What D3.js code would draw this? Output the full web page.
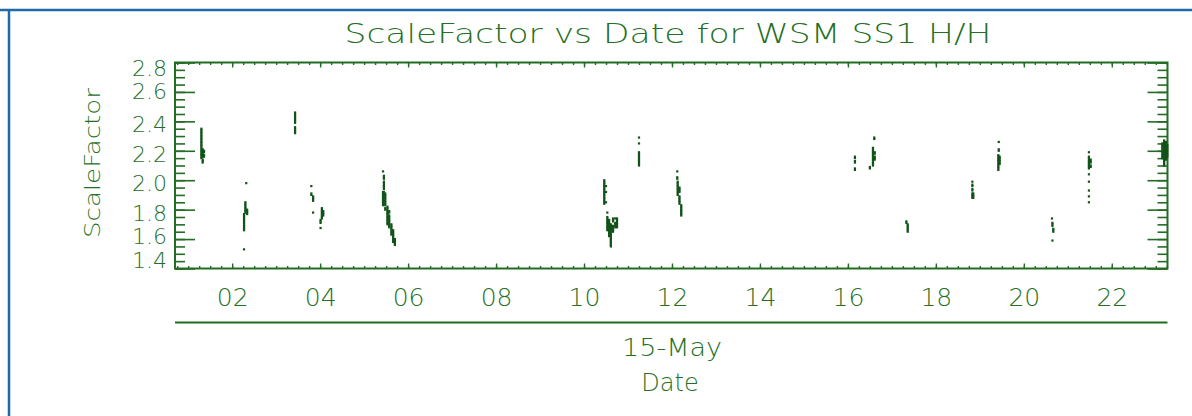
<!doctype html>
<html lang="en">
<head>
    <meta charset="UTF-8">
    <script src="https://cdnjs.cloudflare.com/ajax/libs/d3/7.8.5/d3.min.js"></script>
    <title>ScaleFactor vs Date</title>
    <style>
        body { margin: 0; background: #fff; }
        text { font-family: "DejaVu Sans", sans-serif; font-weight: 300; fill: #256f25; }
    </style>
</head>
<body>

<div id="viz_area"></div>

<script>
    const titleText = "ScaleFactor vs Date for WSM SS1 H/H";
    const yLabel = "ScaleFactor", xLabel = "Date";
    const dayStart = new Date(2010, 4, 15, 0, 42),
        dayEnd = new Date(2010, 4, 15, 23, 16);
    const yTicks = [1.4, 1.6, 1.8, 2.0, 2.2, 2.4, 2.6, 2.8];

    // each column = one short vertical run of samples at (about) the same hour
    const columnHours = [
        1.30, 1.33, 1.36,
        2.32, 2.30, 2.34, 2.27,
        3.43,
        3.80, 3.84, 4.04, 4.07, 4.01,
        5.43, 5.45, 5.48, 5.53, 5.57, 5.62, 5.66, 5.70,
        10.46, 10.50, 10.53, 10.57, 10.61, 10.66, 10.71, 10.75,
        11.25,
        12.12, 12.13, 12.17, 12.21,
        16.16,
        16.60, 16.57, 16.61, 16.50,
        17.33, 17.36,
        18.83, 18.85,
        19.43, 19.42, 19.45,
        20.64, 20.65, 20.67,
        21.48, 21.52,
        23.15, 23.19, 23.23, 23.26
    ];
    const columnFactors = [
        [2.35, 2.34, 2.33, 2.32, 2.31, 2.30, 2.29, 2.28, 2.27, 2.26, 2.25, 2.24, 2.23, 2.22, 2.21, 2.20, 2.19, 2.18, 2.17, 2.16, 2.15],
        [2.21, 2.20, 2.19, 2.18, 2.17, 2.16, 2.14, 2.13, 2.12],
        [2.20, 2.19, 2.17, 2.16],
        [1.98],
        [1.85, 1.84, 1.83, 1.82, 1.81, 1.80, 1.79, 1.78],
        [1.80, 1.79, 1.78, 1.77],
        [1.77, 1.76, 1.75, 1.74, 1.73, 1.72, 1.71, 1.70, 1.69, 1.68, 1.67, 1.66, 1.53],
        [2.46, 2.45, 2.44, 2.43, 2.42, 2.41, 2.40, 2.39, 2.36, 2.35, 2.34, 2.33, 2.32],
        [1.96, 1.91, 1.90],
        [1.89, 1.88, 1.87, 1.86, 1.78],
        [1.81, 1.80, 1.79, 1.78, 1.77, 1.76, 1.75, 1.74],
        [1.79, 1.78, 1.77, 1.76],
        [1.73, 1.72, 1.71, 1.675],
        [2.06, 1.92, 1.91, 1.90, 1.89, 1.88, 1.87, 1.86, 1.85, 1.84, 1.83],
        [2.03, 2.02, 2.01, 1.99, 1.98, 1.97, 1.96, 1.95, 1.94, 1.92, 1.90, 1.88, 1.86, 1.84],
        [1.91, 1.90, 1.89, 1.88, 1.87, 1.86, 1.85, 1.84, 1.83, 1.81, 1.80],
        [1.82, 1.81, 1.80, 1.79, 1.78, 1.77, 1.76, 1.75, 1.74, 1.73, 1.72, 1.71, 1.70],
        [1.79, 1.78, 1.76, 1.75, 1.74, 1.73, 1.72, 1.71, 1.70, 1.69, 1.68],
        [1.70, 1.69, 1.68, 1.67, 1.66, 1.65, 1.64, 1.63],
        [1.66, 1.65, 1.64, 1.63, 1.62, 1.61, 1.60, 1.59, 1.58],
        [1.60, 1.59, 1.58, 1.57, 1.56],
        [2.00, 1.99, 1.98, 1.97, 1.96, 1.95, 1.94, 1.93, 1.92, 1.91, 1.90, 1.89, 1.88, 1.87, 1.86, 1.85, 1.84],
        [1.96, 1.92, 1.85],
        [1.78, 1.75, 1.74, 1.73, 1.72, 1.71, 1.70, 1.69, 1.68, 1.67, 1.66],
        [1.73, 1.72, 1.71, 1.70, 1.69, 1.68, 1.67, 1.66, 1.65, 1.64, 1.63, 1.62],
        [1.70, 1.69, 1.68, 1.67, 1.66, 1.65, 1.64, 1.63, 1.62, 1.61, 1.60, 1.59, 1.58, 1.57, 1.56, 1.55],
        [1.74, 1.73, 1.72, 1.69, 1.68, 1.67, 1.66, 1.65],
        [1.74, 1.71, 1.70, 1.69, 1.68],
        [1.74, 1.73, 1.72, 1.71, 1.70, 1.69, 1.68],
        [2.29, 2.25, 2.19, 2.18, 2.17, 2.16, 2.15, 2.14, 2.13, 2.12, 2.11, 2.10],
        [2.06, 2.02, 2.01],
        [1.99, 1.98, 1.97, 1.96, 1.95, 1.94, 1.93, 1.92, 1.91, 1.90],
        [1.95, 1.94, 1.93, 1.92, 1.89, 1.88, 1.87, 1.86, 1.85, 1.84],
        [1.83, 1.82, 1.81, 1.80, 1.79, 1.78, 1.77, 1.76],
        [2.16, 2.15, 2.13, 2.12, 2.08, 2.07],
        [2.29, 2.28],
        [2.22, 2.21, 2.20, 2.19, 2.18, 2.17, 2.16, 2.15, 2.14, 2.13, 2.12, 2.11, 2.10],
        [2.19, 2.18, 2.16, 2.15, 2.14],
        [2.09, 2.08],
        [1.72, 1.71],
        [1.70, 1.69, 1.68, 1.67, 1.66, 1.65],
        [1.99, 1.97, 1.96, 1.94, 1.93, 1.91, 1.90, 1.89, 1.88],
        [1.91, 1.90, 1.89, 1.88],
        [2.26, 2.21, 2.20],
        [2.17, 2.16, 2.15, 2.14, 2.13, 2.12, 2.11, 2.10, 2.09, 2.08, 2.07],
        [2.16, 2.15, 2.14, 2.13, 2.12, 2.11],
        [1.74],
        [1.71, 1.70, 1.69, 1.59],
        [1.67, 1.66, 1.65],
        [2.19, 2.16, 2.15, 2.14, 2.13, 2.12, 2.11, 2.10, 2.09, 2.08, 2.04, 1.99, 1.93, 1.89, 1.85],
        [2.14, 2.13, 2.12, 2.10, 2.09],
        [2.25, 2.24, 2.23, 2.22, 2.21, 2.20, 2.19, 2.18, 2.17, 2.16, 2.15],
        [2.27, 2.26, 2.25, 2.24, 2.23, 2.22, 2.21, 2.20, 2.19, 2.18, 2.17, 2.16, 2.15, 2.14, 2.13, 2.12, 2.11, 2.10],
        [2.26, 2.25, 2.24, 2.23, 2.22, 2.21, 2.20, 2.19, 2.18, 2.17, 2.16, 2.15, 2.14],
        [2.24, 2.23, 2.22, 2.21, 2.20, 2.19, 2.18, 2.17, 2.16]
    ];

    const W = 1192, H = 416;
    const margin = {top: 62.5, right: 24.5, bottom: 147.5, left: 175},
        width = W - margin.left - margin.right,
        height = H - margin.top - margin.bottom;
    const green = "#236c23", dotGreen = "#12531a";

    const svg = d3.select('#viz_area')
        .append("svg")
        .attr("width", W)
        .attr("height", H);

    // blue page frame
    svg.append("line").attr("x1", 0).attr("x2", W).attr("y1", 10).attr("y2", 10)
        .attr("stroke", "#1f6aa8").attr("stroke-width", 2.5);
    svg.append("line").attr("x1", 9).attr("x2", 9).attr("y1", 10).attr("y2", H)
        .attr("stroke", "#1f6aa8").attr("stroke-width", 2.5);

    const g = svg.append("g")
        .attr("transform", `translate(${margin.left},${margin.top})`);

    const x = d3.scaleTime().domain([dayStart, dayEnd]).range([0, width]);
    const y = d3.scaleLinear().domain([1.4, 2.8]).range([height, 0]);

    function hourToDate(h) {
        return new Date(2010, 4, 15, 0, 0, Math.round(h * 3600));
    }

    function styleAxis(sel, w) {
        sel.select('.domain').remove();
        sel.selectAll('.tick line').attr('stroke', green).attr('stroke-width', w);
    }

    // x axes: bottom and top, majors every 2h, minors every 15 min
    const xMajor = d3.timeHour.every(2), xMinor = d3.timeMinute.every(15);
    g.append("g").attr("transform", `translate(0,${height})`)
        .call(d3.axisBottom(x).ticks(xMinor).tickSize(-2.5).tickFormat(""))
        .call(s => styleAxis(s, 1.4));
    g.append("g").attr("transform", `translate(0,${height})`)
        .call(d3.axisBottom(x).ticks(xMajor).tickSize(-5).tickPadding(20)
            .tickFormat(d3.timeFormat("%H")))
        .call(s => styleAxis(s, 1.4))
        .call(s => s.selectAll('text').style('font-size', '25px').attr('fill', green));
    g.append("g")
        .call(d3.axisTop(x).ticks(xMinor).tickSize(-2.5).tickFormat(""))
        .call(s => styleAxis(s, 1.4));
    g.append("g")
        .call(d3.axisTop(x).ticks(xMajor).tickSize(-5).tickFormat(""))
        .call(s => styleAxis(s, 1.4));

    // y axes: left and right, majors every 0.2, minors every 0.05
    const yMinorTicks = d3.range(0, 29).map(i => +(1.4 + i * 0.05).toFixed(2));
    const labelNudge = {2.8: 5.5, 2.6: -0.5, 1.6: -2.5, 1.4: -8};
    g.append("g")
        .call(d3.axisLeft(y).tickValues(yMinorTicks).tickSize(-10).tickFormat(""))
        .call(s => styleAxis(s, 1.6));
    g.append("g")
        .call(d3.axisLeft(y).tickValues(yTicks).tickSize(-20).tickPadding(8)
            .tickFormat(d3.format(".1f")))
        .call(s => styleAxis(s, 1.6))
        .call(s => s.selectAll('text').style('font-size', '22px').attr('fill', green)
            .attr('y', d => labelNudge[d] !== undefined ? labelNudge[d] : 3.5));
    g.append("g").attr("transform", `translate(${width},0)`)
        .call(d3.axisRight(y).tickValues(yMinorTicks).tickSize(-10).tickFormat(""))
        .call(s => styleAxis(s, 1.6));
    g.append("g").attr("transform", `translate(${width},0)`)
        .call(d3.axisRight(y).tickValues(yTicks).tickSize(-20).tickFormat(""))
        .call(s => styleAxis(s, 1.6));

    // plot frame
    g.append("rect")
        .attr("width", width).attr("height", height)
        .attr("fill", "none").attr("stroke", green).attr("stroke-width", 2);

    // samples
    const points = [];
    columnHours.forEach((h, i) => {
        columnFactors[i].forEach(v => points.push({t: hourToDate(h), v: v}));
    });
    g.append("g").selectAll("rect")
        .data(points)
        .join("rect")
        .attr("x", d => x(d.t) - 1.1)
        .attr("y", d => y(d.v) - 1.1)
        .attr("width", 2.2)
        .attr("height", 2.2)
        .attr("fill", dotGreen);

    // titles
    svg.append("text")
        .attr("x", 668).attr("y", 43)
        .attr("text-anchor", "middle")
        .attr("textLength", 647).attr("lengthAdjust", "spacingAndGlyphs")
        .style("font-size", "27px")
        .text(titleText);

    svg.append("text")
        .attr("transform", "translate(100,163) rotate(-90)")
        .attr("text-anchor", "middle")
        .attr("textLength", 150).attr("lengthAdjust", "spacingAndGlyphs")
        .style("font-size", "22px")
        .text(yLabel);

    svg.append("line")
        .attr("x1", margin.left).attr("x2", margin.left + width)
        .attr("y1", 322.5).attr("y2", 322.5)
        .attr("stroke", green).attr("stroke-width", 2);

    svg.append("text")
        .attr("x", 672).attr("y", 356)
        .attr("text-anchor", "middle")
        .attr("textLength", 100).attr("lengthAdjust", "spacingAndGlyphs")
        .style("font-size", "24px")
        .text(d3.timeFormat("%d-%b")(dayStart));

    svg.append("text")
        .attr("x", 670).attr("y", 391)
        .attr("text-anchor", "middle")
        .style("font-size", "24px")
        .text(xLabel);
</script>
</body>
</html>
